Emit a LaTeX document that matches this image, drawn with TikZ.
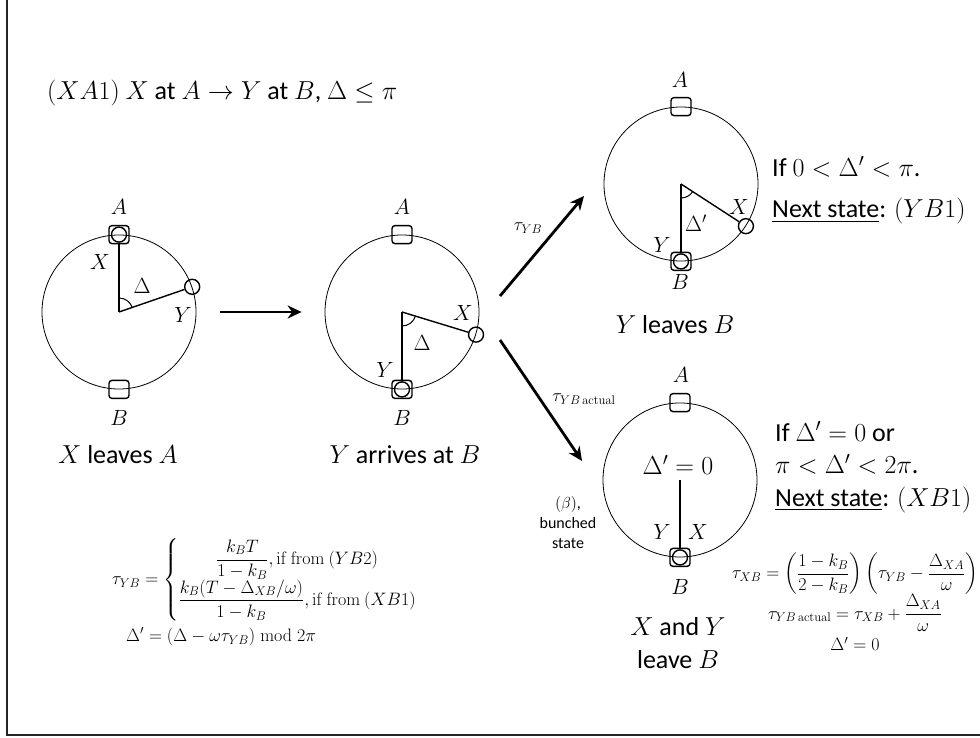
\RequirePackage{fix-cm}
\documentclass[tikz,border=0pt]{standalone}
\usepackage{amsmath}
\usepackage[no-math]{fontspec}
\setmainfont{Carlito}
\usetikzlibrary{arrows.meta}
\begin{document}
\begin{tikzpicture}[x=1pt,y=1pt,
 ring/.style={circle,draw,line width=0.8pt,minimum size=154pt,inner sep=0pt},
 stn/.style={draw,rounded corners=3pt,line width=1.4pt,minimum width=20pt,minimum height=18pt,inner sep=0pt},
 ptc/.style={circle,draw,line width=1.4pt,minimum size=15pt,inner sep=0pt},
 rad/.style={line width=1.4pt},
 ang/.style={line width=1pt},
 lbl/.style={font=\fontsize{22}{26}\selectfont,inner sep=0pt},
 captxt/.style={font=\fontsize{26}{33}\selectfont,inner sep=0pt},
 eq/.style={font=\fontsize{18}{22}\selectfont,inner sep=0pt},
 smalltxt/.style={font=\fontsize{16}{20}\selectfont,inner sep=0pt},
 flow/.style={line width=2.8pt,-{Stealth[length=14pt,width=13pt]}},
]
\useasboundingbox (0,0) rectangle (980,-738);
\draw[line width=2pt,black!85] (7,0) -- (7,-735) -- (980,-735);

% title
\node[captxt,anchor=west] (title) at (47,-93) {$(XA1)$ $X$ at $A\rightarrow Y$ at $B$, $\Delta\le\pi$};

% ---------- diagram 1 ----------
\node[ring] (R1) at (119,-312) {};
\node[stn] (SA1) at (R1.90) {};
\node[stn] (SB1) at (R1.270) {};
\node[ptc] (X1) at (SA1) {};
\node[ptc] (Y1) at (R1.19) {};
\draw[rad] (R1.center) -- (X1);
\draw[rad] (R1.center) -- (Y1);
\draw[ang] ([shift={(90:14)}]R1.center) arc[start angle=90,end angle=19,radius=14];
\node[lbl] (lA1) at (119,-207) {$A$};
\node[lbl] (lB1) at (119,-418) {$B$};
\node[lbl] (lX1) at (100,-262) {$X$};
\node[lbl] (lD1) at (142,-286) {$\Delta$};
\node[lbl] (lY1) at (183,-315) {$Y$};
\node[captxt] (cap1) at (118,-455) {$X$ leaves $A$};

% ---------- diagram 2 ----------
\node[ring] (R2) at (402,-312) {};
\node[stn] (SA2) at (R2.90) {};
\node[stn] (SB2) at (R2.270) {};
\node[ptc] (Y2) at (SB2) {};
\node[ptc] (X2) at (R2.-17) {};
\draw[rad] (R2.center) -- (Y2);
\draw[rad] (R2.center) -- (X2);
\draw[ang] ([shift={(270:14)}]R2.center) arc[start angle=270,end angle=343,radius=14];
\node[lbl] (lA2) at (402,-207) {$A$};
\node[lbl] (lB2) at (402,-418) {$B$};
\node[lbl] (lX2) at (463,-313) {$X$};
\node[lbl] (lD2) at (422,-343) {$\Delta$};
\node[lbl] (lY2) at (385,-370) {$Y$};
\node[captxt] (cap2) at (405,-455) {$Y$ arrives at $B$};

% ---------- diagram 3 ----------
\node[ring] (R3) at (681,-184) {};
\node[stn] (SA3) at (R3.90) {};
\node[stn] (SB3) at (R3.270) {};
\node[ptc] (Y3) at (SB3) {};
\node[ptc] (X3) at (R3.-33) {};
\draw[rad] (R3.center) -- (Y3);
\draw[rad] (R3.center) -- (X3);
\draw[ang] ([shift={(270:14)}]R3.center) arc[start angle=270,end angle=327,radius=14];
\node[lbl] (lA3) at (680,-80) {$A$};
\node[lbl] (lB3) at (680,-282) {$B$};
\node[lbl] (lX3) at (739,-207) {$X$};
\node[lbl] (lD3) at (696,-223) {$\Delta'$};
\node[lbl] (lY3) at (662,-245) {$Y$};
\node[captxt] (cap3) at (675,-325) {$Y$ leaves $B$};
\node[captxt,anchor=west] (if3) at (772,-167) {If $0<\Delta'<\pi$.};
\node[captxt,anchor=west] (ns3) at (772,-211) {\underline{Next state}: $(YB1)$};

% ---------- diagram 4 ----------
\node[ring] (R4) at (680,-480) {};
\node[stn] (SA4) at (R4.90) {};
\node[stn] (SB4) at (R4.270) {};
\node[ptc] (P4) at (SB4) {};
\draw[rad] (R4.center) -- (P4);
\node[lbl] (lA4) at (681,-375) {$A$};
\node[lbl] (lB4) at (680,-587) {$B$};
\node[lbl] (lY4) at (662,-532) {$Y$};
\node[lbl] (lX4) at (698,-532) {$X$};
\node[captxt] (d4) at (678,-465) {$\Delta'=0$};
\node[captxt,align=center,font=\fontsize{26}{33}\selectfont] (cap4) at (678,-643) {$X$ and $Y$\\leave $B$};
\node[smalltxt,align=center] (beta) at (568,-523) {$(\beta)$,\\bunched\\state};
\node[captxt,align=left,anchor=west,font=\fontsize{26}{32.5}\selectfont] (if4) at (775,-467) {If $\Delta'=0$ or\\$\pi<\Delta'<2\pi$.\\\underline{Next state}: $(XB1)$};

% ---------- arrows ----------
\draw[flow,shorten <=24pt,shorten >=23pt] (R1) -- (R2);
\coordinate (upS) at (500,-296);
\coordinate (upE) at (584,-196);
\coordinate (dnS) at (500,-340);
\coordinate (dnE) at (582,-461);
\draw[flow] (upS) -- (upE);
\draw[flow] (dnS) -- (dnE);
\node[eq] (t1) at (528,-228) {$\tau_{YB}$};
\node[eq] (t2) at (584,-399) {$\tau_{YB\,\mathrm{actual}}$};

% ---------- formulas ----------
\node[eq,anchor=west] (f1) at (112,-580) {$\tau_{YB}=\left\{\begin{array}{@{}c@{}}\dfrac{k_BT}{1-k_B},\mathrm{if\ from\ }(YB2)\\[8pt] \dfrac{k_B(T-\Delta_{XB}/\omega)}{1-k_B},\mathrm{if\ from\ }(XB1)\end{array}\right.$};
\node[eq,anchor=west] (f2) at (126,-637) {$\Delta'=(\Delta-\omega\tau_{YB})\bmod 2\pi$};

\node[eq] (f3) at (855,-574) {$\tau_{XB}=\left(\dfrac{1-k_B}{2-k_B}\right)\left(\tau_{YB}-\dfrac{\Delta_{XA}}{\omega}\right)$};
\node[eq] (f4) at (855,-613) {$\tau_{YB\,\mathrm{actual}}=\tau_{XB}+\dfrac{\Delta_{XA}}{\omega}$};
\node[eq] (f5) at (855,-644) {$\Delta'=0$};
\end{tikzpicture}
\end{document}
